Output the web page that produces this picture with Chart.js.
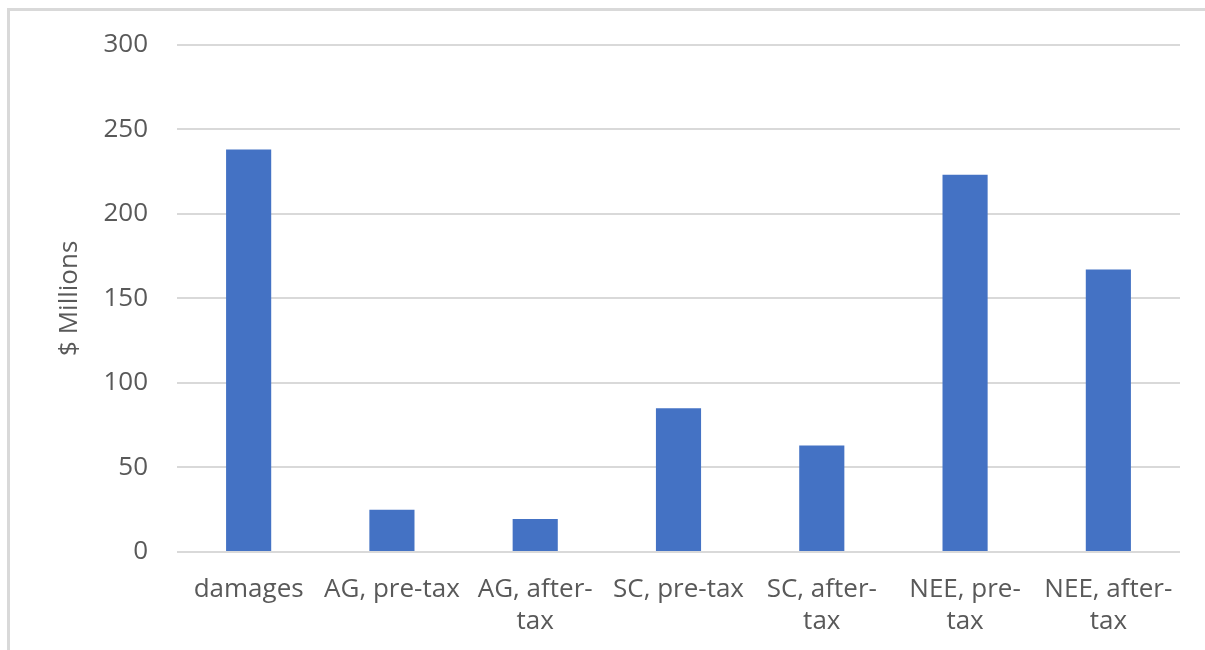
<!DOCTYPE html>
<html lang="en">
<head>
  <meta charset="UTF-8">
  <title>$ Millions by scenario</title>
  <script src="https://cdn.jsdelivr.net/npm/chart.js"></script>
  <style>
    body { margin: 0; background-color: #ffffff; overflow: hidden; }
    #frame { position: absolute; left: 7px; top: 8px; right: 0; bottom: 0; border-left: 3px solid #d9d9d9; border-top: 3px solid #d9d9d9; }
    #chart-container { position: absolute; left: 0; top: 0; width: 1205px; height: 650px; }
  </style>
</head>
<body>
  <div id="frame"></div>
  <div id="chart-container">
    <canvas id="millionsChart" width="1205" height="650"></canvas>
  </div>

  <script>
    const categories = [
      "damages",
      "AG, pre-tax",
      ["AG, after-", "tax"],
      "SC, pre-tax",
      ["SC, after-", "tax"],
      ["NEE, pre-", "tax"],
      ["NEE, after-", "tax"]
    ];
    const millions = [238, 25, 19.5, 85, 63, 223, 167];
    const yTicks = [0, 50, 100, 150, 200, 250, 300];

    const textColor = "#595959";
    const fontFamily = "'Open Sans', sans-serif";

    const ctx = document.getElementById("millionsChart").getContext("2d");
    new Chart(ctx, {
      type: 'bar',
      data: {
        labels: categories,
        datasets: [{
          label: "$ Millions",
          data: millions,
          backgroundColor: "#4472c4",
          borderWidth: 0,
          categoryPercentage: 1,
          barPercentage: 0.315
        }]
      },
      options: {
        responsive: false,
        animation: false,
        layout: { padding: { left: 50, right: 25, top: 40, bottom: 0 } },
        scales: {
          x: {
            grid: { display: false },
            border: { display: false },
            ticks: {
              color: textColor,
              font: { family: fontFamily, size: 26, lineHeight: 1.22 },
              maxRotation: 0,
              autoSkip: false,
              padding: 14
            },
            afterFit: (axis) => { axis.height = 98; }
          },
          y: {
            min: 0,
            max: 300,
            afterBuildTicks: (axis) => { axis.ticks = yTicks.map(v => ({ value: v })); },
            grid: { color: "#d9d9d9", lineWidth: 2, drawTicks: false },
            border: { display: false },
            ticks: {
              color: textColor,
              font: { family: fontFamily, size: 26 },
              padding: 29
            },
            title: {
              display: true,
              text: "$ Millions",
              color: textColor,
              font: { family: fontFamily, size: 26 }
            },
            afterFit: (axis) => { axis.width = 127; }
          }
        },
        plugins: { legend: { display: false }, tooltip: { enabled: false } }
      }
    });
  </script>
</body>
</html>
